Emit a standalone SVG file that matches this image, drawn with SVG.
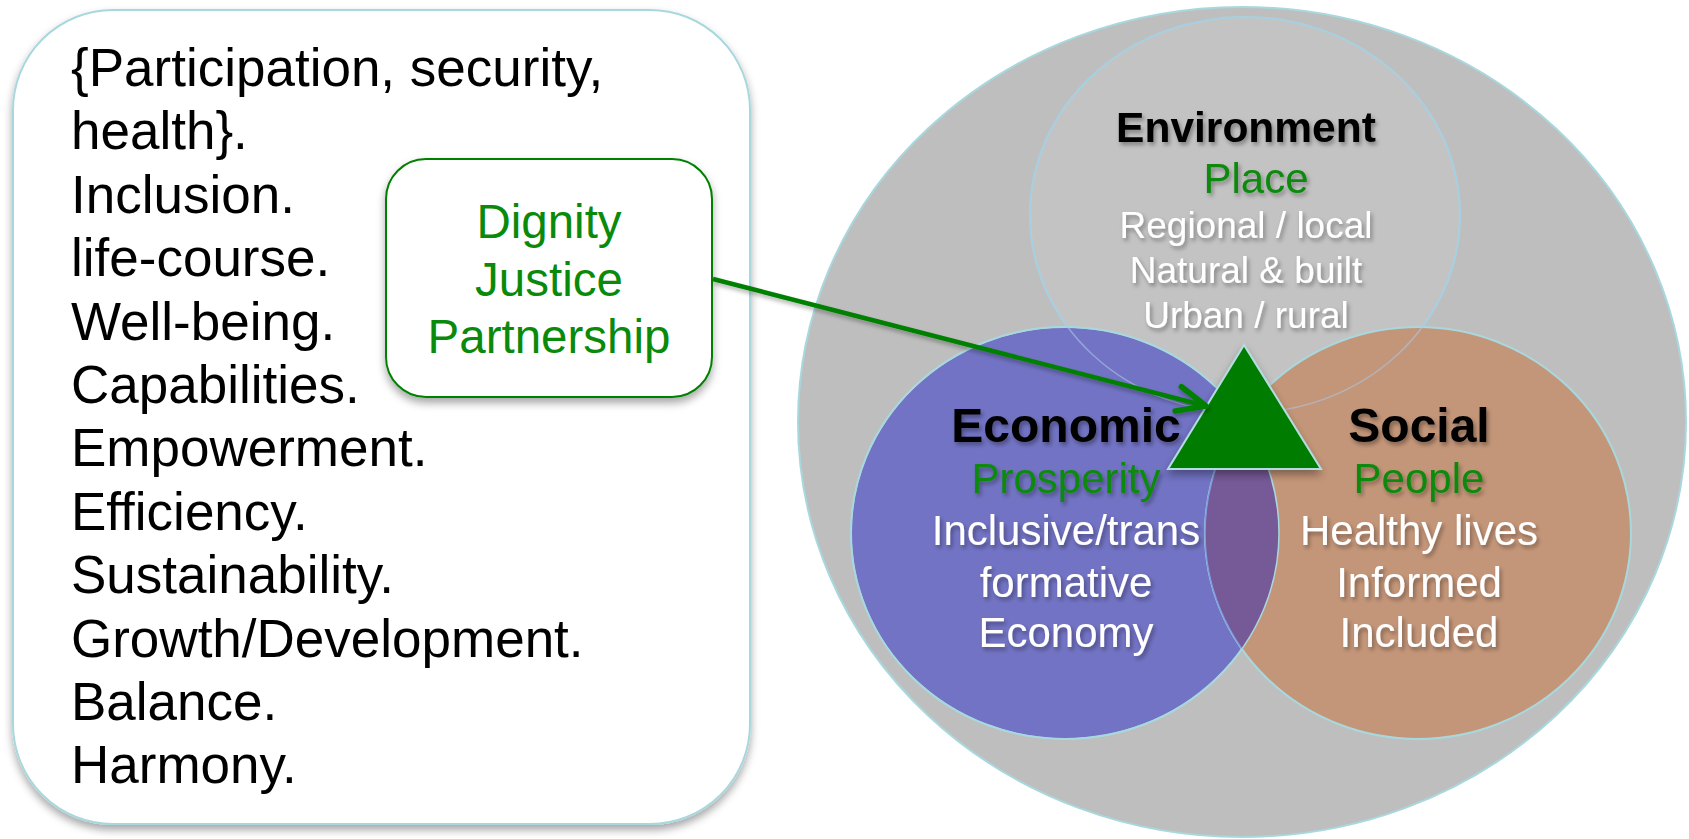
<svg xmlns="http://www.w3.org/2000/svg" width="1689" height="839" viewBox="0 0 1689 839">
  <defs>
    <filter id="boxShadow" x="-10%" y="-10%" width="120%" height="125%">
      <feDropShadow dx="0" dy="5" stdDeviation="4" flood-color="#000" flood-opacity="0.35"/>
    </filter>
    <filter id="txtShadow" x="-10%" y="-20%" width="120%" height="150%">
      <feDropShadow dx="2" dy="3" stdDeviation="2" flood-color="#000" flood-opacity="0.35"/>
    </filter>
    <filter id="lineShadow" x="-10%" y="-30%" width="120%" height="160%">
      <feDropShadow dx="1" dy="3" stdDeviation="2" flood-color="#000" flood-opacity="0.3"/>
    </filter>
    <clipPath id="ecoClip">
      <ellipse cx="1065" cy="533" rx="214" ry="206"/>
    </clipPath>
    <marker id="openArrow" markerUnits="userSpaceOnUse" markerWidth="40" markerHeight="40" viewBox="-30 -15 35 30" refX="0" refY="0" orient="auto" overflow="visible">
      <path d="M -25 -11 L 0 0 L -25 11" fill="none" stroke="#008000" stroke-width="5" stroke-linecap="round" stroke-linejoin="round"/>
    </marker>
  </defs>
  <style>
    .list { font-family: "Liberation Sans", Arial, sans-serif; font-size: 53px; fill: #000; }
    .green { fill: #0a8a0a; }
    .dig { font-family: "Liberation Sans", Arial, sans-serif; font-size: 47.5px; text-anchor: middle; }
    .title { font-family: "Liberation Sans", Arial, sans-serif; font-weight: bold; fill: #000; text-anchor: middle; }
    .sub { font-family: "Liberation Sans", Arial, sans-serif; text-anchor: middle; }
    .white { fill: #ffffff; }
    .edge { stroke: #a8d8de; stroke-width: 2; }
  </style>

  <rect width="1689" height="839" fill="#ffffff"/>

  <g id="values-box">
    <rect x="13" y="10" width="737" height="814" rx="100" ry="100" fill="#ffffff" stroke="#a8d8de" stroke-width="2" filter="url(#boxShadow)"/>
    <text class="list" x="71" y="86">{Participation, security,</text>
    <text class="list" x="71" y="149">health}.</text>
    <text class="list" x="71" y="213">Inclusion.</text>
    <text class="list" x="71" y="276">life-course.</text>
    <text class="list" x="71" y="340">Well-being.</text>
    <text class="list" x="71" y="403">Capabilities.</text>
    <text class="list" x="71" y="466">Empowerment.</text>
    <text class="list" x="71" y="530">Efficiency.</text>
    <text class="list" x="71" y="593">Sustainability.</text>
    <text class="list" x="71" y="657">Growth/Development.</text>
    <text class="list" x="71" y="720">Balance.</text>
    <text class="list" x="71" y="783">Harmony.</text>
  </g>

  <g id="principles-box">
    <rect x="386" y="159" width="326" height="238" rx="40" ry="40" fill="#ffffff" stroke="#008000" stroke-width="2" filter="url(#boxShadow)"/>
    <text class="dig green" x="549" y="238">Dignity</text>
    <text class="dig green" x="549" y="296">Justice</text>
    <text class="dig green" x="549" y="353">Partnership</text>
  </g>

  <g id="outer-ellipse">
    <ellipse cx="1242" cy="422" rx="444" ry="415" fill="#bebebe" class="edge"/>
  </g>

  <g id="environment">
    <ellipse cx="1245" cy="215" rx="215" ry="198" fill="#c3c3c3" class="edge"/>
  </g>

  <g id="economic">
    <ellipse cx="1065" cy="533" rx="214" ry="206" fill="#7273c4" class="edge"/>
  </g>

  <g id="social">
    <ellipse cx="1418" cy="533" rx="213" ry="206" fill="#c49679" class="edge"/>
    <ellipse cx="1418" cy="533" rx="213" ry="206" fill="#765997" clip-path="url(#ecoClip)"/>
    <ellipse cx="1418" cy="533" rx="213" ry="206" fill="none" stroke="#7f9ee0" stroke-width="1.5" clip-path="url(#ecoClip)"/>
    <ellipse cx="1065" cy="533" rx="214" ry="206" fill="none" stroke="#a8d8de" stroke-width="1.5"/>
    <ellipse cx="1245" cy="215" rx="215" ry="198" fill="none" stroke="#a9c6e6" stroke-opacity="0.6" stroke-width="1.5"/>
  </g>

  <g id="environment-labels" filter="url(#txtShadow)">
    <text class="title" x="1246" y="142" font-size="42.5">Environment</text>
    <text class="sub green" x="1256" y="193" font-size="42">Place</text>
    <text class="sub white" x="1246" y="238" font-size="37">Regional / local</text>
    <text class="sub white" x="1246" y="283" font-size="37">Natural &amp; built</text>
    <text class="sub white" x="1246" y="328" font-size="37">Urban / rural</text>
  </g>

  <g id="economic-labels" filter="url(#txtShadow)">
    <text class="title" x="1066" y="442" font-size="48">Economic</text>
    <text class="sub green" x="1066" y="493" font-size="42">Prosperity</text>
    <text class="sub white" x="1066" y="545" font-size="42">Inclusive/trans</text>
    <text class="sub white" x="1066" y="597" font-size="42">formative</text>
    <text class="sub white" x="1066" y="647" font-size="42">Economy</text>
  </g>

  <g id="social-labels" filter="url(#txtShadow)">
    <text class="title" x="1419" y="442" font-size="48">Social</text>
    <text class="sub green" x="1419" y="493" font-size="42">People</text>
    <text class="sub white" x="1419" y="545" font-size="42">Healthy lives</text>
    <text class="sub white" x="1419" y="597" font-size="42">Informed</text>
    <text class="sub white" x="1419" y="647" font-size="42">Included</text>
  </g>

  <g id="triangle">
    <polygon points="1244,345 1168,469 1321,469" fill="#007d00" stroke="#b3dde0" stroke-width="2" stroke-linejoin="miter" filter="url(#boxShadow)"/>
  </g>

  <g id="connectors" filter="url(#lineShadow)">
    <line x1="713" y1="279" x2="1206" y2="406" stroke="#008000" stroke-width="4.5" marker-end="url(#openArrow)"/>
  </g>
</svg>
